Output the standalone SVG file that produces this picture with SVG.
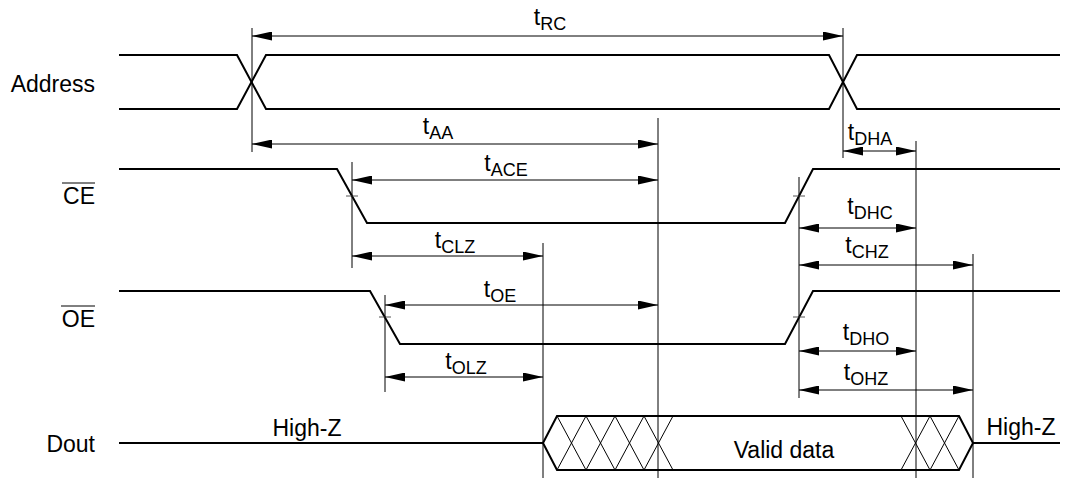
<svg xmlns="http://www.w3.org/2000/svg" width="1067" height="483" viewBox="0 0 1067 483">
<defs>
<marker id="ah" markerUnits="userSpaceOnUse" markerWidth="20" markerHeight="9" refX="20" refY="4.5" orient="auto-start-reverse" viewBox="0 0 20 9">
<path d="M0,0 L20,4.5 L0,9 z" fill="#000"/>
</marker>
<style>
.sig{fill:none;stroke:#000;stroke-width:2;stroke-linejoin:miter}
.ref{fill:none;stroke:#000;stroke-width:1}
.tick{fill:none;stroke:#555;stroke-width:1}
.dim{fill:none;stroke:#000;stroke-width:1;marker-start:url(#ah);marker-end:url(#ah)}
.hatch{fill:none;stroke:#000;stroke-width:1}
.lbl{font-family:"Liberation Sans",Arial,sans-serif;font-size:23px;fill:#000}
.tl{font-family:"Liberation Sans",Arial,sans-serif;font-size:23px;fill:#000;text-anchor:middle}
.sub{font-size:18px}
</style>
</defs>
<rect width="1067" height="483" fill="#fff"/>

<g id="labels">
<text class="lbl" x="95" y="92" text-anchor="end">Address</text>
<text class="lbl" x="95" y="204" text-anchor="end">CE</text>
<line class="ref" x1="62" y1="183" x2="95" y2="183"/>
<text class="lbl" x="95" y="327" text-anchor="end">OE</text>
<line class="ref" x1="61" y1="306" x2="95" y2="306"/>
<text class="lbl" x="95" y="452" text-anchor="end">Dout</text>
</g>

<g id="address">
<path class="sig" d="M119,55 H237 L266,109 H829 L857,55 H1060"/>
<path class="sig" d="M119,109 H237 L266,55 H829 L857,109 H1060"/>
</g>

<g id="ce">
<path class="sig" d="M119,169 H337 L367,223 H785 L813,169 H1060"/>
<line class="tick" x1="346" y1="196" x2="358" y2="196"/>
<line class="tick" x1="793" y1="196" x2="805" y2="196"/>
</g>

<g id="oe">
<path class="sig" d="M119,291 H370 L400,344 H785 L813,291 H1060"/>
<line class="tick" x1="379" y1="317" x2="391" y2="317"/>
<line class="tick" x1="793" y1="317" x2="805" y2="317"/>
</g>

<g id="dout">
<path class="sig" d="M119,443 H543"/>
<path class="sig" d="M973,443 H1060"/>
<path class="sig" d="M543,443 L557,416 H959 L973,443 L959,470 H557 Z"/>
<path class="hatch" d="M557,416 L586,470 M557,470 L586,416 M586,416 L615,470 M586,470 L615,416 M615,416 L644,470 M615,470 L644,416 M644,416 L673,470 M644,470 L673,416 M901,416 L930,470 M901,470 L930,416 M930,416 L959,470 M930,470 L959,416"/>
<text class="lbl" x="307" y="436" text-anchor="middle">High-Z</text>
<text class="lbl" x="1021" y="435" text-anchor="middle">High-Z</text>
<text class="lbl" x="784" y="458" text-anchor="middle">Valid data</text>
</g>

<g id="connectors">
<line class="ref" x1="252" y1="28" x2="252" y2="152"/>
<line class="ref" x1="843" y1="28" x2="843" y2="158"/>
<line class="ref" x1="658" y1="118" x2="658" y2="478"/>
<line class="ref" x1="916" y1="141" x2="916" y2="478"/>
<line class="ref" x1="352" y1="162" x2="352" y2="268"/>
<line class="ref" x1="799" y1="177" x2="799" y2="398"/>
<line class="ref" x1="543" y1="243" x2="543" y2="478"/>
<line class="ref" x1="973" y1="254" x2="973" y2="478"/>
<line class="ref" x1="385" y1="295" x2="385" y2="392"/>

<line class="dim" x1="252" y1="36" x2="843" y2="36"/>
<line class="dim" x1="252" y1="144" x2="658" y2="144"/>
<line class="dim" x1="843" y1="151" x2="916" y2="151"/>
<line class="dim" x1="352" y1="180" x2="658" y2="180"/>
<line class="dim" x1="799" y1="228" x2="916" y2="228"/>
<line class="dim" x1="352" y1="256" x2="543" y2="256"/>
<line class="dim" x1="799" y1="265" x2="973" y2="265"/>
<line class="dim" x1="385" y1="305" x2="658" y2="305"/>
<line class="dim" x1="799" y1="351" x2="916" y2="351"/>
<line class="dim" x1="385" y1="377" x2="543" y2="377"/>
<line class="dim" x1="799" y1="390" x2="973" y2="390"/>
</g>

<g id="timing-labels">
<text class="tl" x="550" y="25">t<tspan class="sub" dy="5">RC</tspan></text>
<text class="tl" x="438" y="134">t<tspan class="sub" dy="5">AA</tspan></text>
<text class="tl" x="870" y="140">t<tspan class="sub" dy="5">DHA</tspan></text>
<text class="tl" x="506" y="171">t<tspan class="sub" dy="5">ACE</tspan></text>
<text class="tl" x="870" y="214">t<tspan class="sub" dy="5">DHC</tspan></text>
<text class="tl" x="455" y="248">t<tspan class="sub" dy="5">CLZ</tspan></text>
<text class="tl" x="867" y="253">t<tspan class="sub" dy="5">CHZ</tspan></text>
<text class="tl" x="500" y="297">t<tspan class="sub" dy="5">OE</tspan></text>
<text class="tl" x="866" y="340">t<tspan class="sub" dy="5">DHO</tspan></text>
<text class="tl" x="466" y="369">t<tspan class="sub" dy="5">OLZ</tspan></text>
<text class="tl" x="866" y="380">t<tspan class="sub" dy="5">OHZ</tspan></text>
</g>
</svg>
